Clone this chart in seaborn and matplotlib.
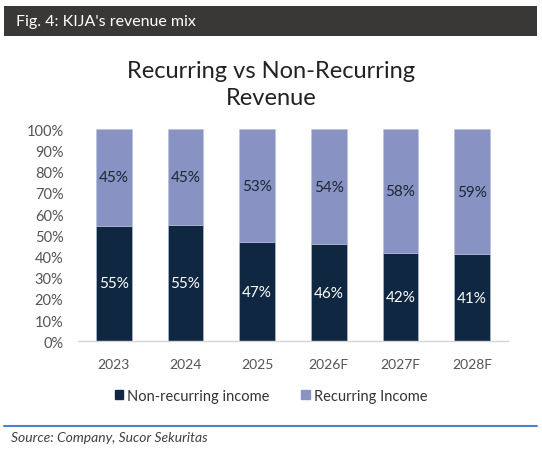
import pandas as pd
import matplotlib.pyplot as plt
import seaborn as sns
from matplotlib.patches import Rectangle
from matplotlib.lines import Line2D

years = ["2023", "2024", "2025", "2026F", "2027F", "2028F"]
non_recurring = [54.6, 54.9, 46.7, 45.7, 41.6, 41.2]
recurring = [45.4, 45.1, 53.3, 54.3, 58.4, 58.8]

dark_col = "#0f2741"
light_col = "#8893c3"

df = pd.DataFrame({"Year": years, "Non-recurring income": non_recurring, "Recurring Income": recurring})

sns.set_theme(style="white")
plt.rcParams["font.family"] = ["Lato", "DejaVu Sans"]

fig = plt.figure(figsize=(5.42, 4.52), dpi=100)
ax = fig.add_axes([0.1439, 0.2427, 0.7934, 0.469])

sns.barplot(data=df, x="Year", y="Non-recurring income", color=dark_col,
            width=0.5, saturation=1, errorbar=None, ax=ax,
            edgecolor="#b8c0d8", linewidth=0.4)
sns.barplot(data=df, x="Year", y="Recurring Income", color=light_col,
            width=0.5, saturation=1, errorbar=None, ax=ax,
            bottom=df["Non-recurring income"].to_numpy(),
            edgecolor="#b8c0d8", linewidth=0.4)

ax.bar_label(ax.containers[0], labels=[f"{v:.0f}%" for v in non_recurring],
             label_type="center", color="white", fontsize=11)
ax.bar_label(ax.containers[1], labels=[f"{v:.0f}%" for v in recurring],
             label_type="center", color="#1d2633", fontsize=11)

ax.set_ylim(0, 100)
ax.set_xlim(-0.5, len(years) - 0.5)
ax.set_yticks(range(0, 101, 10))
ax.set_yticklabels([f"{t}%" for t in range(0, 101, 10)])
ax.set_xlabel("")
ax.set_ylabel("")
ax.tick_params(axis="y", length=0, pad=10.5, labelsize=10.5, labelcolor="#555555")
ax.tick_params(axis="x", length=0, pad=12, labelsize=10, labelcolor="#555555")
for s in ["top", "right", "left"]:
    ax.spines[s].set_visible(False)
ax.spines["bottom"].set_color("#d4d4d4")
ax.spines["bottom"].set_linewidth(1)

# header bar
fig.patches.append(Rectangle((4 / 542, 1 - 36.7 / 452), 532.7 / 542, 30 / 452,
                             transform=fig.transFigure, facecolor="#3a3836",
                             edgecolor="none"))
fig.text(16 / 542, 1 - 22 / 452, "Fig. 4: KIJA's revenue mix", color="white",
         fontsize=11.5, va="center", ha="left")

fig.text(0.5, 0.812, "Recurring vs Non-Recurring\nRevenue", ha="center", va="center",
         fontsize=17, color="#222222", linespacing=1.3)

handles = [plt.Rectangle((0, 0), 1, 1, color=dark_col),
           plt.Rectangle((0, 0), 1, 1, color=light_col)]
fig.legend(handles, ["Non-recurring income", "Recurring Income"], loc="center",
           bbox_to_anchor=(0.5, 1 - 396.7 / 452), ncol=2, frameon=False,
           fontsize=10.5, handlelength=0.6, handleheight=0.6, handletextpad=0.25,
           columnspacing=2.2, labelcolor="#333333")

fig.lines.append(Line2D([4 / 542, 537 / 542], [1 - 426.7 / 452, 1 - 426.7 / 452],
                        transform=fig.transFigure, color="#4a86cf", linewidth=1.5))
fig.text(11 / 542, 1 - 437.7 / 452, "Source: Company, Sucor Sekuritas", style="italic",
         fontsize=10, color="#404040", va="center", ha="left")

fig.savefig("out.png", dpi=100)
